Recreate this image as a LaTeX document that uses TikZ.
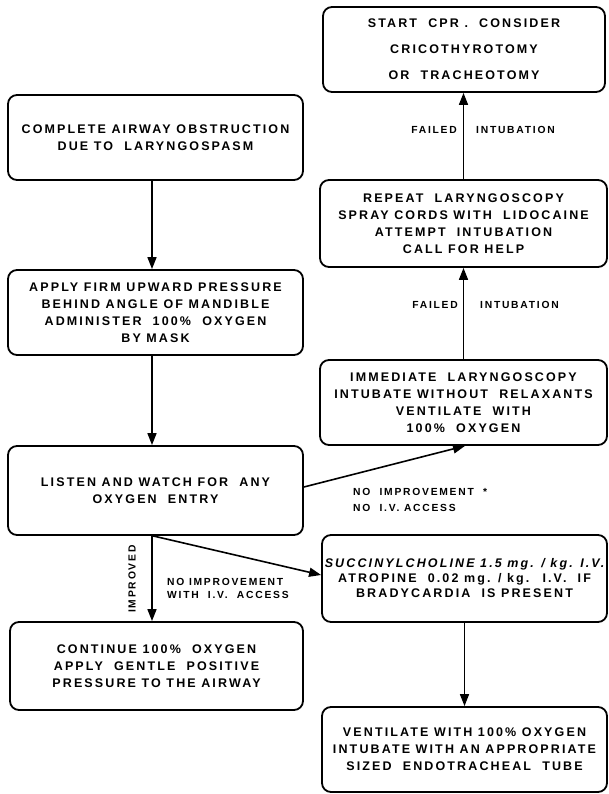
\documentclass[tikz,border=0pt]{standalone}
\usepackage{fontspec}
\setmainfont{Liberation Sans}[LetterSpace=17]
\usetikzlibrary{arrows.meta,calc}
\begin{document}
\begin{tikzpicture}[x=1pt,y=-1pt,
 box/.style={draw, line width=1.8pt, rounded corners=9pt, align=center, inner sep=0pt,
   font=\bfseries\fontsize{12.5}{17}\selectfont},
 conn/.style={line width=1.6pt, -{Triangle[length=12pt,width=9pt]}},
 lab/.style={inner sep=0pt, font=\bfseries\fontsize{10.3}{15}\selectfont}]
\useasboundingbox (0,0) rectangle (609,794);

\node[box, minimum width=282pt, minimum height=85pt, font=\bfseries\fontsize{12.5}{26}\selectfont] (cpr) at (464,49.5)
  {START~ CPR .~ CONSIDER\\CRICOTHYROTOMY\\OR~ TRACHEOTOMY};
\node[box, minimum width=295pt, minimum height=85pt] (obs) at (155.5,137.5)
  {COMPLETE AIRWAY OBSTRUCTION\\DUE TO~ LARYNGOSPASM};
\node[box, minimum width=295pt, minimum height=85pt] (apply) at (155.5,312.5)
  {APPLY FIRM UPWARD PRESSURE\\BEHIND ANGLE OF MANDIBLE\\ADMINISTER~ 100\%~ OXYGEN\\BY MASK};
\node[box, minimum width=287pt, minimum height=87pt] (repeat) at (463.5,223.5)
  {REPEAT~ LARYNGOSCOPY\\SPRAY CORDS WITH~ LIDOCAINE\\ATTEMPT~ INTUBATION\\CALL FOR HELP};
\node[box, minimum width=287pt, minimum height=85pt] (immed) at (463.5,402.5)
  {IMMEDIATE~ LARYNGOSCOPY\\INTUBATE WITHOUT~ RELAXANTS\\VENTILATE~ WITH\\100\%~ OXYGEN};
\node[box, minimum width=295pt, minimum height=89pt] (listen) at (155.5,490.5)
  {LISTEN AND WATCH FOR~ ANY\\OXYGEN~ ENTRY};
\node[box, minimum width=285pt, minimum height=87pt, font=\bfseries\fontsize{12.5}{15}\selectfont] (succ) at (464.5,578.5)
  {{\itshape SUCCINYLCHOLINE 1.5 mg. / kg. I.V.}\\ATROPINE~ 0.02 mg. / kg.~ I.V.~ IF\\BRADYCARDIA~ IS PRESENT};
\node[box, minimum width=293pt, minimum height=88pt] (cont) at (156.5,666)
  {CONTINUE 100\%~ OXYGEN\\APPLY~ GENTLE~ POSITIVE\\PRESSURE TO THE AIRWAY};
\node[box, minimum width=285pt, minimum height=85pt] (vent) at (464.5,749.5)
  {VENTILATE WITH 100\% OXYGEN\\INTUBATE WITH AN APPROPRIATE\\SIZED~ ENDOTRACHEAL~ TUBE};

\draw[conn] ([xshift=-3.5pt]obs.south) -- ([xshift=-3.5pt]apply.north);
\draw[conn] ([xshift=-3.5pt]apply.south) -- ([xshift=-3.5pt]listen.north);
\draw[conn] ([xshift=-3.5pt]listen.south) -- ([xshift=-3.5pt]listen.south |- cont.north);
\draw[conn] ([xshift=-2.5pt]listen.south) -- ([yshift=3.5pt]succ.west);
\draw[conn] ([yshift=3.5pt]listen.east) -- ([xshift=1.5pt]immed.south);
\draw[conn] (immed.north) -- (repeat.south);
\draw[conn] (repeat.north) -- (repeat.north |- cpr.south);
\draw[conn] (succ.south) -- (succ.south |- vent.north);

\node[lab, anchor=east] (f1) at (457,130) {FAILED};
\node[lab, anchor=west] (i1) at (476,130) {INTUBATION};
\node[lab, anchor=east] (f2) at (458,305) {FAILED};
\node[lab, anchor=west] (i2) at (480,305) {INTUBATION};
\node[lab, anchor=west, align=left, font=\bfseries\fontsize{10.3}{16}\selectfont] (ni) at (353,500)
  {NO~ IMPROVEMENT~ *\\NO~ I.V. ACCESS};
\node[lab, rotate=90] (imp) at (132,579) {IMPROVED};
\node[lab, anchor=west, align=left, font=\bfseries\fontsize{10.3}{13.5}\selectfont] (niw) at (167,588.5)
  {NO IMPROVEMENT\\WITH~ I.V.~ ACCESS};
\end{tikzpicture}
\end{document}
